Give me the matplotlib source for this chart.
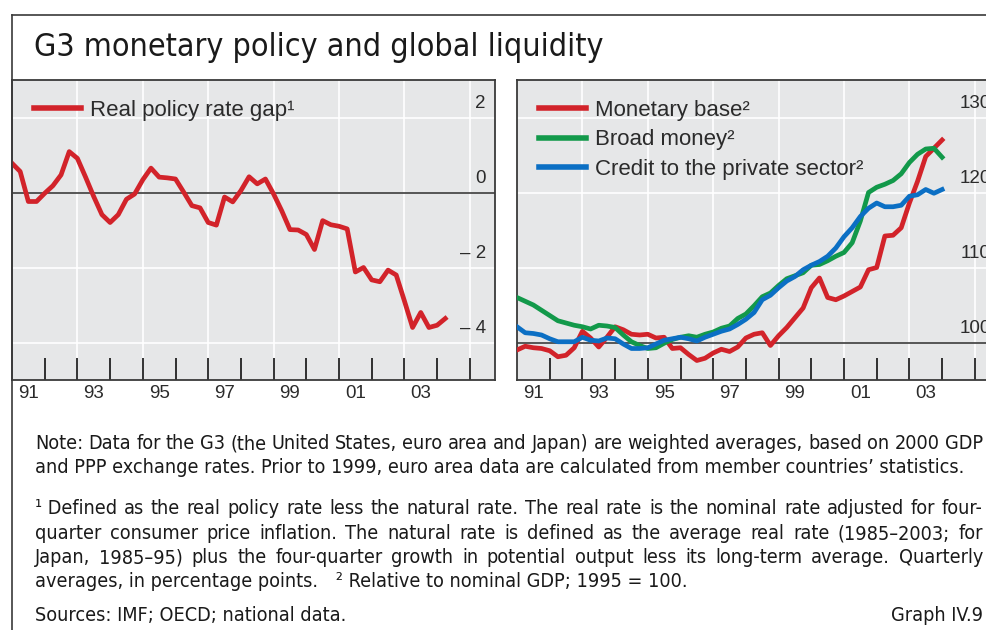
"""G3 monetary policy and global liquidity: two quarterly panels plus notes."""

import matplotlib
matplotlib.use("Agg")
import matplotlib.pyplot as plt  # noqa: E402
import matplotlib.transforms as mtransforms  # noqa: E402
from matplotlib import font_manager  # noqa: E402
from matplotlib.lines import Line2D  # noqa: E402
import numpy as np  # noqa: E402

# Quarterly series, first observation 1991 Q1
FIRST_YEAR = 1991.0
QUARTER = 0.25

policy_gap = [0.78, 0.56, -0.24, -0.24, -0.02, 0.18, 0.47, 1.09, 0.91, 0.41,
              -0.11, -0.59, -0.80, -0.59, -0.18, -0.04, 0.34, 0.65, 0.41, 0.39,
              0.36, 0.01, -0.35, -0.41, -0.80, -0.87, -0.12, -0.25, 0.05, 0.42,
              0.23, 0.36, -0.04, -0.49, -0.99, -1.00, -1.12, -1.52, -0.75, -0.86,
              -0.90, -0.97, -2.12, -2.00, -2.33, -2.38, -2.07, -2.20, -2.89, -3.60,
              -3.20, -3.60, -3.54, -3.36]

monetary_base = [99.0, 99.5, 99.3, 99.2, 98.9, 98.1, 98.3, 99.3, 101.5, 100.6,
                 99.4, 100.7, 102.1, 101.7, 101.1, 101.0, 101.1, 100.6, 100.7, 99.2,
                 99.3, 98.4, 97.6, 97.9, 98.6, 99.1, 98.8, 99.4, 100.6, 101.1,
                 101.3, 99.6, 100.9, 102.0, 103.3, 104.6, 107.3, 108.6, 106.0, 105.7,
                 106.2, 106.8, 107.4, 109.7, 110.0, 114.2, 114.3, 115.3, 118.6, 121.5,
                 124.8, 125.9, 127.0]

broad_money = [106.0, 105.5, 105.0, 104.3, 103.6, 102.9, 102.6, 102.3, 102.1, 101.8,
               102.3, 102.2, 102.0, 101.0, 100.1, 99.6, 99.2, 99.3, 99.9, 100.4,
               100.7, 100.9, 100.7, 101.1, 101.4, 101.9, 102.2, 103.2, 103.8, 104.9,
               106.1, 106.6, 107.6, 108.5, 108.9, 109.3, 110.3, 110.4, 110.9, 111.5,
               112.0, 113.3, 116.2, 120.0, 120.7, 121.1, 121.6, 122.5, 124.0, 125.1,
               125.8, 125.9, 124.7]

credit_private = [102.1, 101.3, 101.2, 101.0, 100.5, 100.1, 100.1, 100.1, 100.7, 100.3,
                  100.2, 100.6, 100.5, 99.8, 99.2, 99.2, 99.3, 99.8, 100.3, 100.5,
                  100.7, 100.5, 100.2, 100.7, 101.1, 101.5, 101.8, 102.4, 103.1, 104.0,
                  105.7, 106.3, 107.3, 108.2, 108.8, 109.7, 110.3, 110.8, 111.5, 112.6,
                  114.1, 115.3, 116.8, 117.9, 118.6, 118.1, 118.1, 118.3, 119.5, 119.7,
                  120.4, 119.9, 120.4]

year_label_pos = [1991, 1993, 1995, 1997, 1999, 2001, 2003]
year_labels = ["91", "93", "95", "97", "99", "01", "03"]
left_yticks = [2, 0, -2, -4]
left_yticklabels = ["2", "0", "\u2013 2", "\u2013 4"]
right_yticks = [130, 120, 110, 100]
right_yticklabels = ["130", "120", "110", "100"]

RED = "#d2232a"
GREEN = "#12994a"
BLUE = "#0b6fc4"
PANEL_BG = "#e6e7e8"
INK = "#2b2b2b"
FRAME = "#3a3a3a"

W, H = 987, 630


def pick_family(cands):
    for fam in cands:
        try:
            font_manager.findfont(font_manager.FontProperties(family=fam),
                                  fallback_to_default=False)
            return fam
        except ValueError:
            continue
    return None


SANS = pick_family(["Liberation Sans", "Arial", "DejaVu Sans"]) or "DejaVu Sans"
plt.rcParams["font.family"] = [SANS, "DejaVu Sans"]

# condensed face for title and notes, if one is installed
NARROW = pick_family(["Liberation Sans Narrow", "Arial Narrow"])
if NARROW:
    NARROW_KW = dict(family=[NARROW, "DejaVu Sans"])
    NOTE_SIZE, TITLE_SIZE = 14.5, 25
else:
    cond = font_manager.findfont(font_manager.FontProperties(
        family="DejaVu Sans", stretch="condensed"))
    if "Condensed" in cond:
        NARROW_KW = dict(family=["DejaVu Sans"], stretch="condensed")
        NOTE_SIZE, TITLE_SIZE = 14.2, 23
    else:
        NARROW_KW = dict(family=[SANS, "DejaVu Sans"])
        NOTE_SIZE, TITLE_SIZE = 14.3, 24


def px_x(x):
    return x / W


def px_y(y):
    return 1 - y / H


def style_panel(ax, lo, hi, ticks, labels, base):
    ax.set_facecolor(PANEL_BG)
    ax.set_xlim(1991, 1991 + 483 / 32.7)
    ax.set_ylim(lo, hi)
    for sp in ax.spines.values():
        sp.set_color(FRAME)
        sp.set_linewidth(1.3)
    # horizontal guides: white, with the base line darker
    for v in ticks:
        if v == base:
            ax.axhline(v, color="#4a4a4a", lw=1.3, zorder=2)
        else:
            ax.axhline(v, color="white", lw=1.2, zorder=1)
    for yr in range(1993, 2006, 2):
        ax.axvline(yr, color="white", lw=1.2, zorder=1)
    ax.set_yticks([])
    ax.set_xticks(np.arange(1992, 2006))
    ax.set_xticklabels([])
    ax.tick_params(axis="x", which="major", direction="in", length=16,
                   width=1.2, color="#111111")
    ax.set_xticks([y + 0.5 for y in year_label_pos], minor=True)
    ax.set_xticklabels(year_labels, minor=True)
    ax.tick_params(axis="x", which="minor", length=0, pad=3.5,
                   labelsize=13.5, labelcolor=INK)
    trans = mtransforms.offset_copy(ax.get_yaxis_transform(), fig=ax.figure,
                                    x=0, y=6.5, units="points")
    for v, lab in zip(ticks, labels):
        ax.text(0.981, v, lab, transform=trans, ha="right", va="baseline",
                fontsize=13.5, color=INK)


fig = plt.figure(figsize=(W / 100, H / 100), dpi=100)

# outer frame (top and left edges)
fig.add_artist(Line2D([px_x(12), 1.0], [px_y(15), px_y(15)],
                      transform=fig.transFigure, color=FRAME, lw=1.2))
fig.add_artist(Line2D([px_x(12), px_x(12)], [px_y(15), 0.0],
                      transform=fig.transFigure, color=FRAME, lw=1.2))

fig.text(px_x(34), px_y(56), "G3 monetary policy and global liquidity",
         fontsize=TITLE_SIZE, color="#1a1a1a", ha="left", va="baseline",
         **NARROW_KW)

ax1 = fig.add_axes([px_x(12), px_y(380), px_x(483), 300 / H])
ax2 = fig.add_axes([px_x(517), px_y(380), px_x(483), 300 / H])

style_panel(ax1, -5, 3, left_yticks, left_yticklabels, 0)
style_panel(ax2, 95, 135, right_yticks, right_yticklabels, 100)

x1 = FIRST_YEAR + QUARTER * np.arange(len(policy_gap))
ax1.plot(x1, policy_gap, color=RED, lw=3.4, zorder=3,
         label="Real policy rate gap\u00b9")

x2 = FIRST_YEAR + QUARTER * np.arange(len(monetary_base))
ax2.plot(x2, monetary_base, color=RED, lw=3.4, zorder=3, label="Monetary base\u00b2")
ax2.plot(x2, broad_money, color=GREEN, lw=3.4, zorder=3, label="Broad money\u00b2")
ax2.plot(x2, credit_private, color=BLUE, lw=3.4, zorder=3,
         label="Credit to the private sector\u00b2")

for ax in (ax1, ax2):
    leg = ax.legend(loc="upper left", bbox_to_anchor=(22 / 483, 1 - 20 / 300),
                    frameon=False, fontsize=16, handlelength=2.1,
                    handletextpad=0.4, labelspacing=0.38, borderpad=0,
                    borderaxespad=0)
    for t in leg.get_texts():
        t.set_color(INK)
    for h in leg.get_lines():
        h.set_linewidth(4.0)

# notes block, with justified lines like the printed original
NOTE_KW = dict(fontsize=NOTE_SIZE, color="#1a1a1a", va="baseline", **NARROW_KW)
LEFT, RIGHT = 35, 983
notes = [
    ("Note: Data for the G3 (the United States, euro area and Japan) are weighted "
     "averages, based on 2000 GDP", 449, True),
    ("and PPP exchange rates. Prior to 1999, euro area data are calculated from "
     "member countries\u2019 statistics.", 473, False),
    ("\u00b9\u00a0Defined as the real policy rate less the natural rate. The real "
     "rate is the nominal rate adjusted for four-", 514, True),
    ("quarter consumer price inflation. The natural rate is defined as the average "
     "real rate (1985\u20132003; for", 539, True),
    ("Japan, 1985\u201395) plus the four-quarter growth in potential output less its "
     "long-term average. Quarterly", 563, True),
    ("averages, in percentage points.\u2003\u00b2\u00a0Relative to nominal GDP; "
     "1995 = 100.", 587, False),
    ("Sources: IMF; OECD; national data.", 621, False),
]

renderer = fig.canvas.get_renderer()
for text, ybase, justify in notes:
    if not justify:
        fig.text(px_x(LEFT), px_y(ybase), text, ha="left", **NOTE_KW)
        continue
    words = text.split(" ")
    arts = [fig.text(0, px_y(ybase), w, ha="left", **NOTE_KW) for w in words]
    widths = [a.get_window_extent(renderer).width for a in arts]
    gap = (RIGHT - LEFT - sum(widths)) / (len(words) - 1)
    x = LEFT
    for a, w in zip(arts, widths):
        a.set_x(px_x(x))
        x += w + gap

fig.text(px_x(RIGHT), px_y(621), "Graph IV.9", ha="right", **NOTE_KW)

fig.savefig("out.png", dpi=100)
